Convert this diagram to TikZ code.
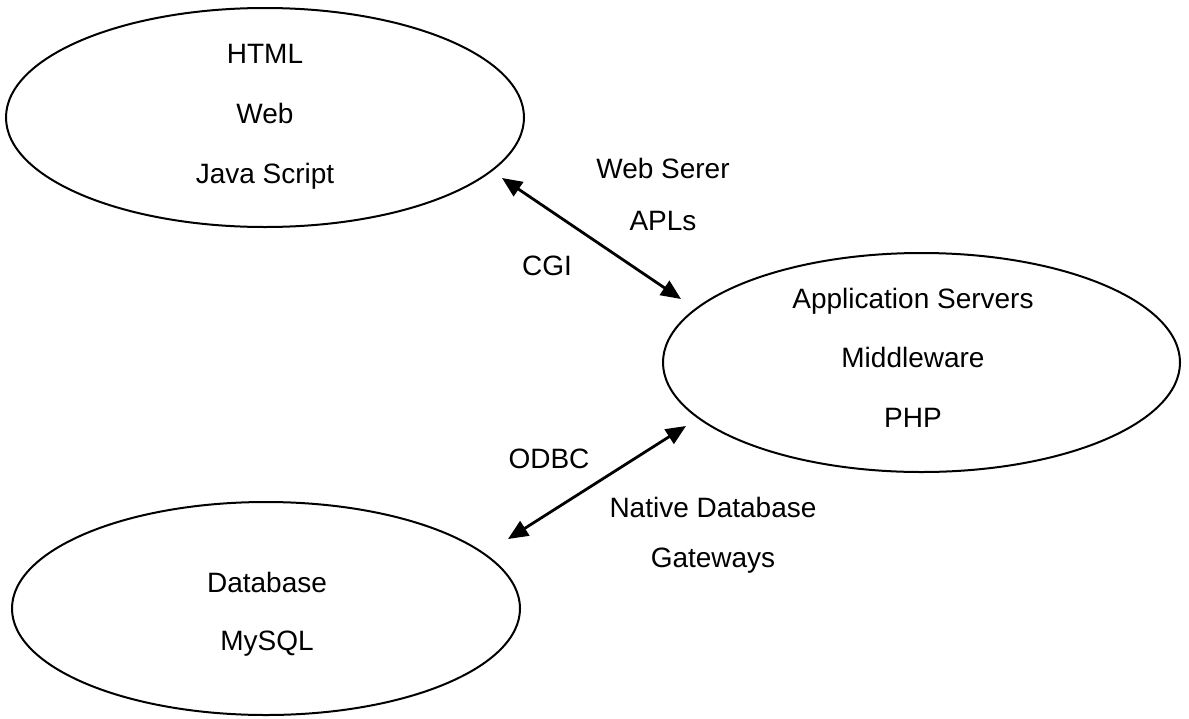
\documentclass[tikz,border=0pt]{standalone}
\usepackage{fontspec}
\setmainfont{Liberation Sans}
\usetikzlibrary{shapes.geometric,arrows.meta}
\begin{document}
\begin{tikzpicture}[x=0.5pt,y=-0.5pt,
  txt/.style={font=\fontsize{14pt}{16pt}\selectfont, inner sep=0pt, anchor=base},
  oval/.style={ellipse, draw, line width=1pt, inner sep=0pt, outer sep=0pt},
  link/.style={{Triangle[length=10pt,width=8.5pt]}-{Triangle[length=10pt,width=8.5pt]}, line width=1.4pt}]
\useasboundingbox (0,0) rectangle (1189,718);
% ellipses
\node[oval, minimum width=259pt, minimum height=109.5pt] (client) at (265,117.5) {};
\node[oval, minimum width=258.5pt, minimum height=109.5pt] (app) at (921.5,362.5) {};
\node[oval, minimum width=254pt, minimum height=106.5pt] (db) at (266,608.5) {};
% texts in ellipses
\node[txt] (t1) at (265,63) {HTML};
\node[txt] (t2) at (265,123) {Web};
\node[txt] (t3) at (265,183) {Java Script};
\node[txt] (t4) at (913,308) {Application Servers};
\node[txt] (t5) at (913,367) {Middleware};
\node[txt] (t6) at (913,427) {PHP};
\node[txt] (t7) at (267,592) {Database};
\node[txt] (t8) at (267,650) {MySQL};
% connector labels
\node[txt] (l1) at (663,178) {Web Serer};
\node[txt] (l2) at (663,230) {APLs};
\node[txt] (l3) at (547,275) {CGI};
\node[txt] (l4) at (549,468) {ODBC};
\node[txt] (l5) at (713,517) {Native Database};
\node[txt] (l6) at (713,567) {Gateways};
% connector ends
\coordinate (c1) at (502,178);
\coordinate (a1) at (681,299);
\coordinate (a2) at (686,426);
\coordinate (d1) at (508,539);
\draw[link] (c1) -- (a1);
\draw[link] (d1) -- (a2);
\end{tikzpicture}
\end{document}
